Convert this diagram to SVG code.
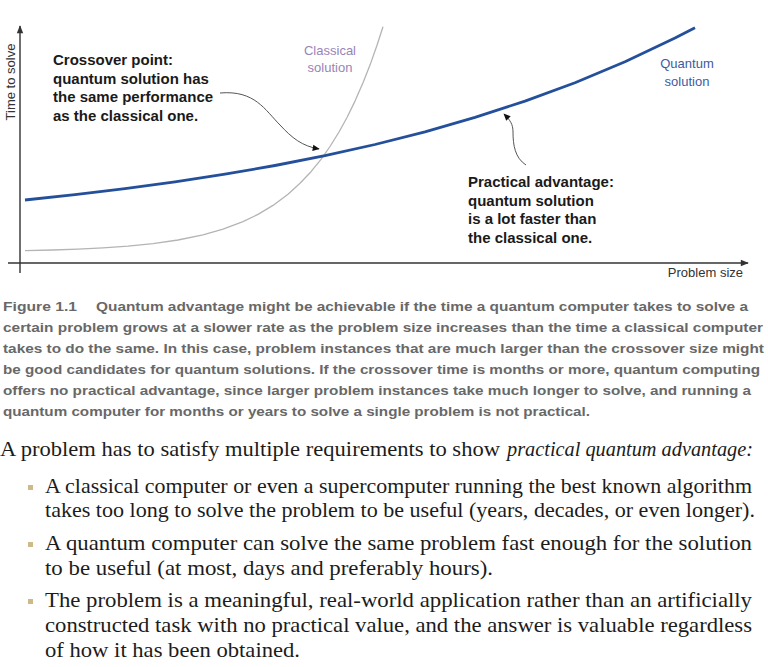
<svg xmlns="http://www.w3.org/2000/svg" width="768" height="667" viewBox="0 0 768 667">
<style>
.axis{stroke:#333;stroke-width:1.4;fill:none}
.ann{font-family:"Liberation Sans",Arial,sans-serif;font-weight:bold;font-size:15px;fill:#1a1a1a}
.lbl{font-family:"Liberation Sans",Arial,sans-serif;font-size:13px}
.cap{font-family:"Liberation Sans",Arial,sans-serif;font-weight:bold;font-size:13.5px;fill:#686868}
.body{font-family:"Liberation Serif","Times New Roman",serif;font-size:21px;fill:#1c1c1c}
.conn{stroke:#555;stroke-width:1;fill:none}
.bullet{fill:#cdb98a}
</style>
<defs>
<marker id="axisArrow" viewBox="0 0 10 10" refX="9" refY="5" markerWidth="9" markerHeight="8" markerUnits="userSpaceOnUse" orient="auto"><path d="M0,1 L10,5 L0,9 z" fill="#333"/></marker>
<marker id="annArrow" viewBox="0 0 10 10" refX="9" refY="5" markerWidth="8" markerHeight="7" markerUnits="userSpaceOnUse" orient="auto"><path d="M0,0.5 L10,5 L0,9.5 z" fill="#111"/></marker>
</defs>
<rect width="768" height="667" fill="#fff"/>

<g id="axes">
<line class="axis" x1="20" y1="273" x2="20" y2="26" marker-end="url(#axisArrow)"/>
<line class="axis" x1="8" y1="263" x2="748" y2="263" marker-end="url(#axisArrow)"/>
<text class="lbl" transform="translate(14.5,82) rotate(-90)" text-anchor="middle" fill="#333" font-size="12.5">Time to solve</text>
<text class="lbl" x="743" y="277" text-anchor="end" fill="#333">Problem size</text>
</g>

<g id="classical-curve">
<path d="M25,250.6 L53,250 L78,249.1 L103,247.9 L128,246.2 L153,243.6 L178,240 L203,234.9 L223,229.2 L243,221.7 L258,214.4 L273,205.4 L288,194.2 L300,183.3 L311,171.7 L321,159.3 L330,146.5 L339,132 L347,117.5 L355,101.1 L363,82.8 L370,65.1 L377,45.3 L383,26.7" stroke="#b4b4b4" stroke-width="1.3" stroke-linejoin="round" fill="none"/>
<text class="lbl" x="330" y="55" text-anchor="middle" fill="#9b82b8">Classical</text>
<text class="lbl" x="330" y="72" text-anchor="middle" fill="#9b82b8">solution</text>
</g>

<g id="quantum-curve">
<path d="M25,200 L75,194.7 L125,188.7 L175,181.9 L225,174.2 L275,165.5 L325,155.7 L375,144.5 L425,131.8 L475,117.4 L525,101.1 L575,82.7 L625,61.8 L675,38.1 L695,27.7" stroke="#24509b" stroke-width="2.8" stroke-linejoin="round" fill="none"/>
<text class="lbl" x="687" y="68" text-anchor="middle" fill="#3b5c9e">Quantum</text>
<text class="lbl" x="687" y="86" text-anchor="middle" fill="#3b5c9e">solution</text>
</g>

<g id="crossover-note">
<text class="ann" x="53" y="65">Crossover point:</text>
<text class="ann" x="53" y="83.5">quantum solution has</text>
<text class="ann" x="53" y="102">the same performance</text>
<text class="ann" x="53" y="120.5">as the classical one.</text>
</g>

<g id="advantage-note">
<text class="ann" x="468" y="187">Practical advantage:</text>
<text class="ann" x="468" y="205.5">quantum solution</text>
<text class="ann" x="468" y="224">is a lot faster than</text>
<text class="ann" x="468" y="243">the classical one.</text>
</g>

<g id="connectors">
<path class="conn" d="M220,93 C255,90 265,110 280,125 C292,138 302,146 319,149" marker-end="url(#annArrow)"/>
<path class="conn" d="M526,165 C515,158 513,145 513,132 C513,124 510,120 504,114" marker-end="url(#annArrow)"/>
</g>

<g id="caption">
<text class="cap" x="3" y="311" textLength="74" lengthAdjust="spacingAndGlyphs">Figure 1.1</text>
<text class="cap" x="96" y="311" textLength="652" lengthAdjust="spacingAndGlyphs">Quantum advantage might be achievable if the time a quantum computer takes to solve a</text>
<text class="cap" x="3" y="332" textLength="760" lengthAdjust="spacingAndGlyphs">certain problem grows at a slower rate as the problem size increases than the time a classical computer</text>
<text class="cap" x="3" y="353" textLength="761" lengthAdjust="spacingAndGlyphs">takes to do the same. In this case, problem instances that are much larger than the crossover size might</text>
<text class="cap" x="3" y="374" textLength="757" lengthAdjust="spacingAndGlyphs">be good candidates for quantum solutions. If the crossover time is months or more, quantum computing</text>
<text class="cap" x="3" y="395" textLength="748" lengthAdjust="spacingAndGlyphs">offers no practical advantage, since larger problem instances take much longer to solve, and running a</text>
<text class="cap" x="3" y="416" textLength="587" lengthAdjust="spacingAndGlyphs">quantum computer for months or years to solve a single problem is not practical.</text>
</g>

<g id="body">
<text class="body" x="0" y="456" textLength="500" lengthAdjust="spacingAndGlyphs">A problem has to satisfy multiple requirements to show</text>
<text class="body" x="507" y="456" font-style="italic" textLength="246" lengthAdjust="spacingAndGlyphs">practical quantum advantage:</text>
<rect class="bullet" x="28" y="485" width="5" height="5"/>
<text class="body" x="45" y="493" textLength="707" lengthAdjust="spacingAndGlyphs">A classical computer or even a supercomputer running the best known algorithm</text>
<text class="body" x="45" y="517" textLength="710" lengthAdjust="spacingAndGlyphs">takes too long to solve the problem to be useful (years, decades, or even longer).</text>
<rect class="bullet" x="28" y="542" width="5" height="5"/>
<text class="body" x="45" y="550" textLength="707" lengthAdjust="spacingAndGlyphs">A quantum computer can solve the same problem fast enough for the solution</text>
<text class="body" x="45" y="575" textLength="448" lengthAdjust="spacingAndGlyphs">to be useful (at most, days and preferably hours).</text>
<rect class="bullet" x="28" y="599" width="5" height="5"/>
<text class="body" x="45" y="607" textLength="707" lengthAdjust="spacingAndGlyphs">The problem is a meaningful, real-world application rather than an artificially</text>
<text class="body" x="45" y="632" textLength="707" lengthAdjust="spacingAndGlyphs">constructed task with no practical value, and the answer is valuable regardless</text>
<text class="body" x="45" y="657" textLength="255" lengthAdjust="spacingAndGlyphs">of how it has been obtained.</text>
</g>
</svg>
